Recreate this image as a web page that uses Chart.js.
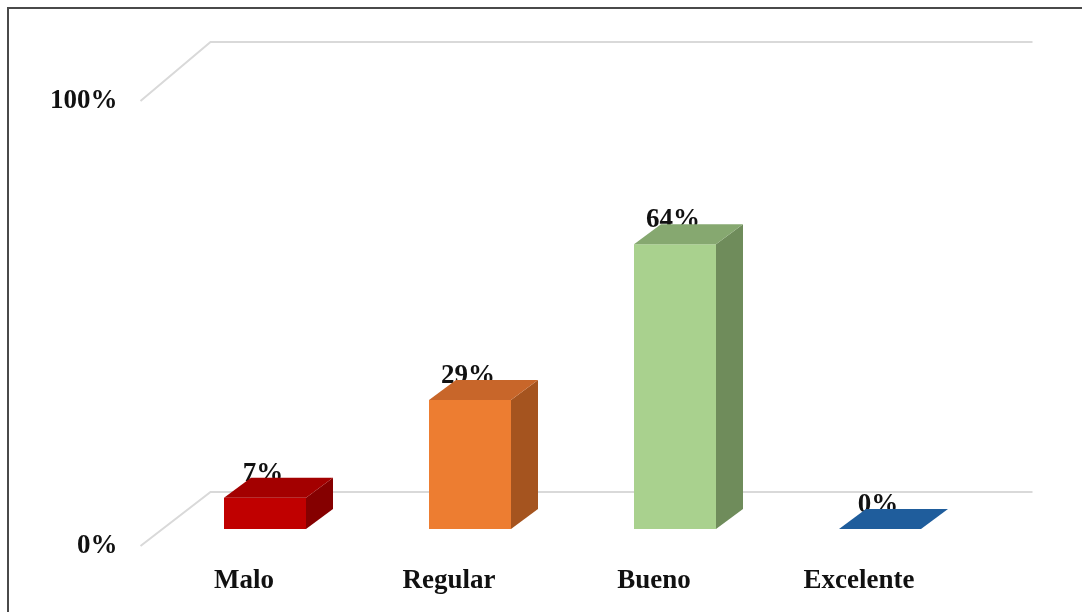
<!DOCTYPE html>
<html>
<head>
<meta charset="utf-8">
<script src="https://cdn.jsdelivr.net/npm/chart.js@4"></script>
<style>
  html, body { margin: 0; padding: 0; background: #fff; }
  #wrap { position: relative; width: 1082px; height: 612px; }
  #frame { position: absolute; left: 7px; top: 7px; right: -2px; bottom: -2px;
           border-top: 2px solid #4a4a4a; border-left: 2px solid #4a4a4a; pointer-events: none; }
  canvas { display: block; }
</style>
</head>
<body>
<div id="wrap">
  <canvas id="c" width="1082" height="612"></canvas>
  <div id="frame"></div>
</div>
<script>
const categories = ["Malo", "Regular", "Bueno", "Excelente"];
const values = [7, 29, 64, 0];
const yTicks = [0, 100];
const frontColors = ["#C00000", "#ED7D31", "#A9D18E", "#1F5D9C"];
const topColors   = ["#A30000", "#C8662A", "#86A870", "#1F5D9C"];
const sideColors  = ["#850000", "#A5541F", "#6F8C5B", "#1A4F85"];

const DX = 27, DY = 20;          // bar depth
const FWX = -22, FWY = 17;       // front wall offset from bar plane
const BWX = 48, BWY = -37;       // back wall offset from bar plane
const FONT = "bold 27px 'Liberation Serif', 'Times New Roman', serif";

const wallPlugin = {
  id: 'wall',
  beforeDatasetsDraw(chart) {
    const { ctx, chartArea, scales } = chart;
    const y = scales.y;
    const p0 = y.getPixelForValue(0);
    ctx.save();
    ctx.strokeStyle = '#D9D9D9';
    ctx.lineWidth = 2;
    yTicks.forEach(v => {
      const py = y.getPixelForValue(v);
      const backY = p0 + BWY + (py - p0) * 450 / 445;
      ctx.beginPath();
      ctx.moveTo(chartArea.left + FWX, py + FWY);
      ctx.lineTo(chartArea.left + BWX, backY);
      ctx.lineTo(chartArea.right + BWX + 2, backY);
      ctx.stroke();
    });
    // data labels (drawn under the bar faces, as in the reference)
    ctx.font = FONT;
    ctx.fillStyle = '#111';
    ctx.textAlign = 'center';
    ctx.textBaseline = 'alphabetic';
    const meta = chart.getDatasetMeta(0);
    meta.data.forEach((bar, i) => {
      ctx.fillText(values[i] + '%', bar.x - 2, bar.y - DY + 3);
    });
    ctx.restore();
  },
  afterDatasetsDraw(chart) {
    const { ctx } = chart;
    const meta = chart.getDatasetMeta(0);
    ctx.save();
    meta.data.forEach((bar, i) => {
      const l = bar.x - bar.width / 2, r = bar.x + bar.width / 2;
      const t = bar.y, b = bar.base;
      // side face
      ctx.fillStyle = sideColors[i];
      ctx.beginPath();
      ctx.moveTo(r, t); ctx.lineTo(r + DX, t - DY);
      ctx.lineTo(r + DX, b - DY); ctx.lineTo(r, b);
      ctx.closePath(); ctx.fill();
      // top face
      ctx.fillStyle = topColors[i];
      ctx.beginPath();
      ctx.moveTo(l, t); ctx.lineTo(r, t);
      ctx.lineTo(r + DX, t - DY); ctx.lineTo(l + DX, t - DY);
      ctx.closePath(); ctx.fill();
    });
    ctx.restore();
  }
};

new Chart(document.getElementById('c'), {
  type: 'bar',
  data: {
    labels: categories,
    datasets: [{
      data: values,
      backgroundColor: frontColors,
      borderWidth: 0,
      barPercentage: 0.8,
      categoryPercentage: 0.5
    }]
  },
  options: {
    responsive: false,
    animation: false,
    events: [],
    layout: { padding: { top: 84, left: 0, right: 99.5, bottom: 0 } },
    plugins: { legend: { display: false }, tooltip: { enabled: false } },
    scales: {
      x: {
        grid: { display: false, drawTicks: false },
        border: { display: false },
        afterFit(s) { s.height = 83; },
        ticks: { font: { family: "'Liberation Serif', 'Times New Roman', serif", size: 27, weight: 'bold' },
                 color: '#111', padding: 36, labelOffset: -21, maxRotation: 0 }
      },
      y: {
        min: 0, max: 100,
        afterFit(s) { s.width = 162.5; },
        afterBuildTicks(s) { s.ticks = yTicks.map(v => ({ value: v })); },
        grid: { display: false, drawTicks: false },
        border: { display: false },
        ticks: { font: { family: "'Liberation Serif', 'Times New Roman', serif", size: 27, weight: 'bold' },
                 color: '#111', padding: 45, labelOffset: 17,
                 callback: v => v + '%' }
      }
    }
  },
  plugins: [wallPlugin]
});
</script>
</body>
</html>
